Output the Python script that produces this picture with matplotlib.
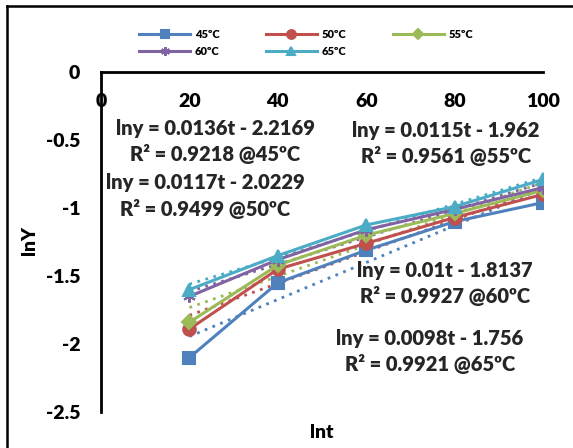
import matplotlib
matplotlib.use("Agg")
import matplotlib.pyplot as plt
from matplotlib.lines import Line2D
import numpy as np

plt.rcParams['font.family'] = ['Lato', 'DejaVu Sans']
plt.rcParams['font.weight'] = 'bold'

t = [20, 40, 60, 80, 100]
series_names = ["45ºC", "50ºC", "55ºC", "60ºC", "65ºC"]
y45 = [-2.10, -1.55, -1.31, -1.10, -0.96]
y50 = [-1.89, -1.45, -1.26, -1.07, -0.90]
y55 = [-1.84, -1.42, -1.20, -1.04, -0.87]
y60 = [-1.65, -1.38, -1.16, -1.01, -0.85]
y65 = [-1.60, -1.35, -1.125, -0.99, -0.79]
series_values = [y45, y50, y55, y60, y65]
slopes = [0.0136, 0.0117, 0.0115, 0.01, 0.0098]
intercepts = [-2.2169, -2.0229, -1.962, -1.8137, -1.756]
r2 = ["0.9218", "0.9499", "0.9561", "0.9927", "0.9921"]
slope_txt = ["0.0136", "0.0117", "0.0115", "0.01", "0.0098"]
icpt_txt = ["2.2169", "2.0229", "1.962", "1.8137", "1.756"]
x_ticks = [0, 20, 40, 60, 80, 100]
y_ticks = [0, -0.5, -1, -1.5, -2, -2.5]

colors = ['#4F81BD', '#C0504D', '#9BBB59', '#8064A2', '#4BACC6']
markers = ['s', 'o', 'D', (6, 2, 0), '^']
msizes = [9, 9, 7, 9, 9]

W, H = 573, 448
fig = plt.figure(figsize=(W / 100, H / 100), dpi=100)
ax = fig.add_axes([101 / W, 1 - 412 / H, (543 - 101) / W, (412 - 72) / H])

tt = np.array([20, 100])
handles = []
for i in range(5):
    ax.plot(tt, slopes[i] * tt + intercepts[i], linestyle=(0, (1, 2)),
            color=colors[i], lw=2.0, zorder=2)
for i in range(5):
    h, = ax.plot(t, series_values[i], color=colors[i], lw=2.2, marker=markers[i],
                 markersize=msizes[i], markeredgecolor=colors[i],
                 markeredgewidth=1.5, zorder=3, label=series_names[i])
    handles.append(h)

ax.set_xlim(0, 100)
ax.set_ylim(-2.5, 0)
ax.set_xticks(x_ticks)
ax.set_yticks(y_ticks)
ax.set_yticklabels([f"{v:g}" for v in y_ticks])
ax.spines['right'].set_visible(False)
ax.spines['bottom'].set_visible(False)
ax.spines['left'].set_linewidth(2)
ax.spines['top'].set_linewidth(2)
ax.xaxis.set_ticks_position('top')
ax.tick_params(axis='x', length=0, labeltop=True, labelbottom=False,
               pad=-27, labelsize=14)
ax.tick_params(axis='y', length=0, pad=15, labelsize=14)
for lab in ax.get_xticklabels() + ax.get_yticklabels():
    lab.set_fontweight('heavy')
ax.set_facecolor('none')

fig.text(30 / W, 1 - 240 / H, "lnY", rotation=90, ha='center', va='center',
         fontsize=14, fontweight='heavy')
fig.text(322 / W, 1 - 432 / H, "lnt", ha='center', va='center',
         fontsize=14, fontweight='heavy')

# equations
pos = [(215, 128), (205, 183), (446, 130), (445, 270), (430, 338)]
for i in range(5):
    x, y = pos[i]
    fig.text(x / W, 1 - y / H, f"lny = {slope_txt[i]}t - {icpt_txt[i]}",
             ha='center', va='center', fontsize=14.5, fontweight='heavy', color='#262626')
    fig.text(x / W, 1 - (y + 26) / H, f"R² = {r2[i]} @{series_names[i]}",
             ha='center', va='center', fontsize=14.5, fontweight='heavy', color='#262626')

order = [0, 3, 1, 4, 2]
leg = fig.legend(handles=[handles[k] for k in order], loc='center', ncol=3,
                 bbox_to_anchor=(306 / W, 1 - 43 / H), frameon=False,
                 prop={'size': 8, 'weight': 'heavy'}, handlelength=4.6,
                 columnspacing=4.2, handletextpad=0.4, labelspacing=0.5,
                 markerscale=0.7)

# outer frame
fig.add_artist(Line2D([7 / W, 7 / W], [0, 1 - 6 / H], color='black', lw=1.8,
                      transform=fig.transFigure))
fig.add_artist(Line2D([7 / W, 1], [1 - 6 / H, 1 - 6 / H], color='black', lw=1.8,
                      transform=fig.transFigure))

fig.savefig("out.png", dpi=100)
